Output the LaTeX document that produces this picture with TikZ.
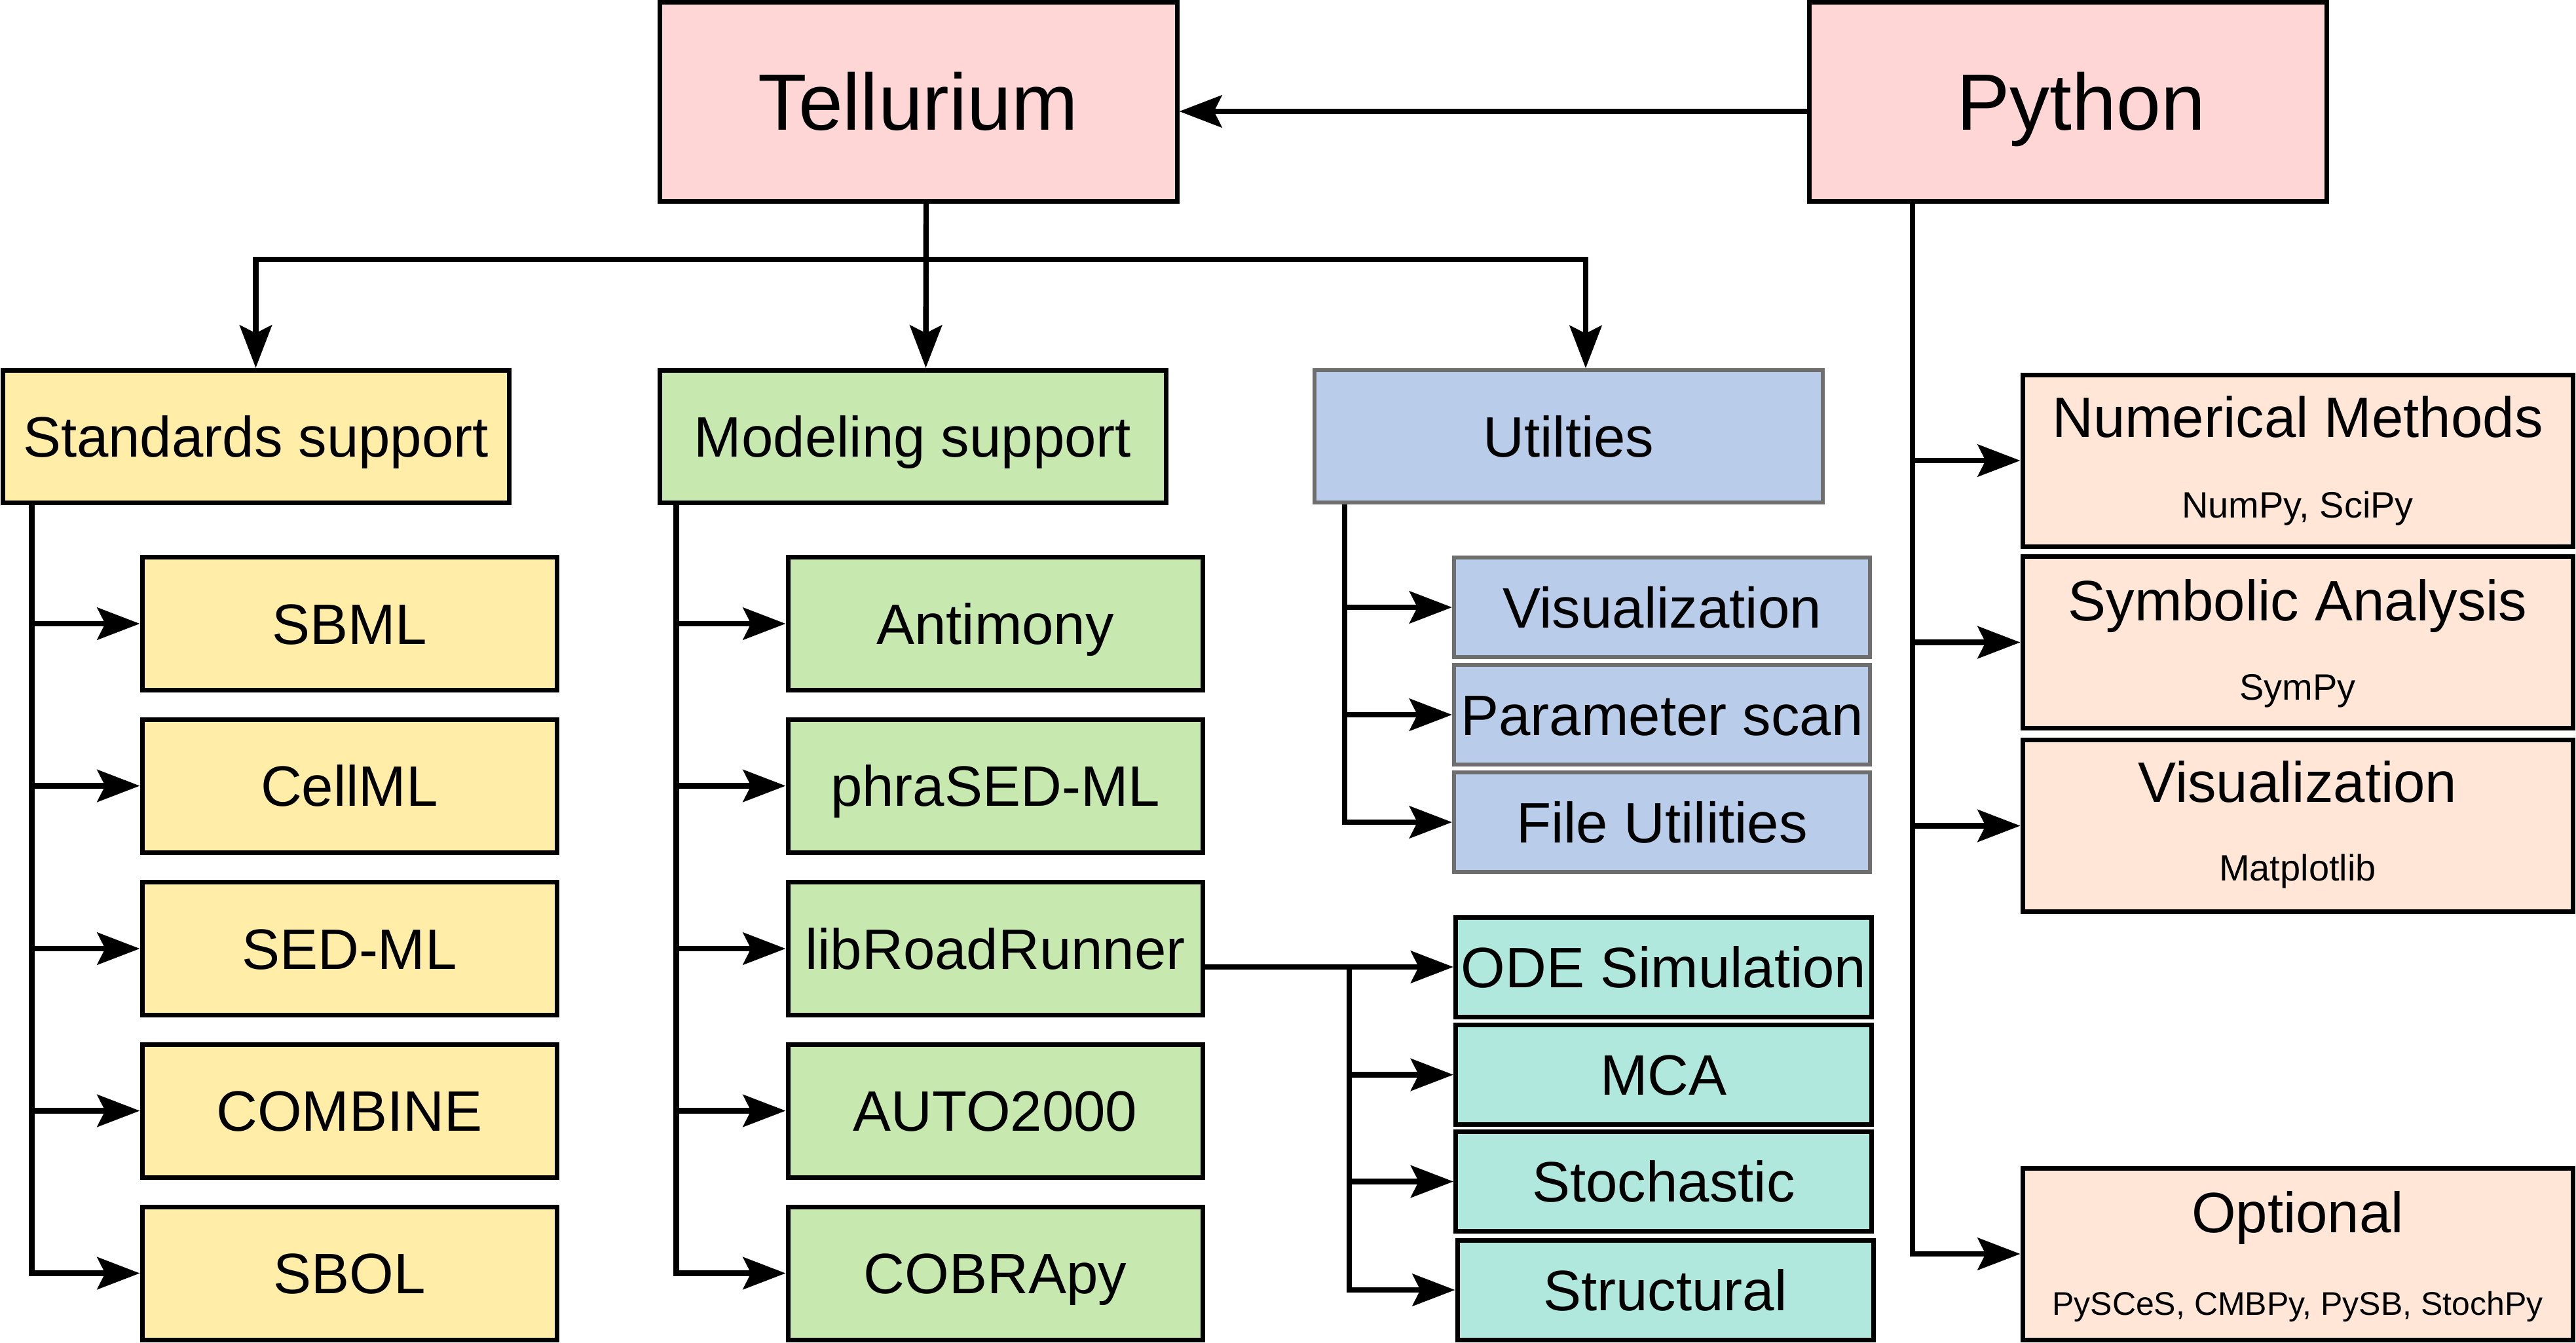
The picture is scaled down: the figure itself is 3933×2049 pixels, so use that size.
\documentclass[tikz,border=0pt]{standalone}
\usepackage{fontspec}
\setmainfont{Liberation Sans}
\usetikzlibrary{arrows.meta,calc}
\definecolor{cyel}{HTML}{FFEDA8}
\definecolor{cgrn}{HTML}{C7E9B0}
\definecolor{cblu}{HTML}{B9CDEB}
\definecolor{cteal}{HTML}{B0E8DE}
\definecolor{cpink}{HTML}{FFD6D6}
\definecolor{cpeach}{HTML}{FFE6D6}
\definecolor{cgray}{HTML}{6E6E6E}
\begin{document}
\begin{tikzpicture}[x=0.25pt,y=-0.25pt,
  box/.style={draw, line width=1.75pt, inner sep=0pt, text height=15.6pt, text depth=0pt,
    font=\fontsize{21.75pt}{26pt}\selectfont},
  bigbox/.style={box, fill=cpink, minimum width=197.5pt, minimum height=76pt,
    text height=21.9pt, font=\fontsize{30.5pt}{36pt}\selectfont},
  headbox/.style={box, minimum width=193.25pt, minimum height=50.5pt},
  ybox/.style={box, fill=cyel, minimum width=158.25pt, minimum height=50.75pt},
  gbox/.style={box, fill=cgrn, minimum width=158.25pt, minimum height=50.75pt},
  bbox/.style={box, draw=cgray, line width=1.5pt, fill=cblu, minimum width=158.75pt, minimum height=38pt},
  tbox/.style={box, fill=cteal, minimum width=158.75pt, minimum height=38pt},
  pbox/.style={box, fill=cpeach, minimum width=210pt, minimum height=65.5pt},
  ptitle/.style={anchor=base, inner sep=0pt, font=\fontsize{21.75pt}{26pt}\selectfont},
  psub/.style={anchor=base, inner sep=0pt, font=\fontsize{14pt}{17pt}\selectfont},
  conn/.style={line width=2.1pt, draw=black},
  arr/.style={conn, -{Stealth[length=16.25pt, width=12.25pt, inset=3pt]}}
]
\useasboundingbox (0,0) rectangle (3933,2049);

% top level
\node[bigbox] (tel) at (1402,155) {Tellurium};
\node[bigbox] (py) at (3157.5,155) {\hspace*{10pt}Python};

% second level
\node[headbox, fill=cyel] (std) at (390.5,666) {Standards support};
\node[headbox, fill=cgrn] (mod) at (1393.5,666) {Modeling support};
\node[headbox, draw=cgray, line width=1.5pt, fill=cblu, minimum width=194pt] (utl) at (2395,666) {Utilties};

% standards children
\node[ybox] (sbml) at (533.5,952) {SBML};
\node[ybox] (cellml) at (533.5,1199.5) {CellML};
\node[ybox] (sedml) at (533.5,1448) {SED-ML};
\node[ybox] (combine) at (533.5,1695.5) {COMBINE};
\node[ybox] (sbol) at (533.5,1943.5) {SBOL};

% modeling children
\node[gbox] (antimony) at (1519.5,952) {Antimony};
\node[gbox] (phrased) at (1519.5,1199.5) {phraSED-ML};
\node[gbox] (lrr) at (1519.5,1448) {libRoadRunner};
\node[gbox] (auto) at (1519.5,1695.5) {AUTO2000};
\node[gbox] (cobra) at (1519.5,1943.5) {COBRApy};

% utilities children
\node[bbox] (uvis) at (2537.5,927) {Visualization};
\node[bbox] (param) at (2537.5,1091) {Parameter scan};
\node[bbox] (file) at (2537.5,1255) {File Utilities};

% roadrunner children
\node[tbox] (ode) at (2540,1476) {ODE Simulation};
\node[tbox] (mca) at (2540,1640.5) {MCA};
\node[tbox] (stoch) at (2540,1803.5) {Stochastic};
\node[tbox] (struct) at (2542.5,1969) {Structural};

% python children
\node[pbox] (num) at (3508,703) {};
\node[pbox] (sym) at (3508,980.5) {};
\node[pbox] (pvis) at (3508,1260.5) {};
\node[pbox] (opt) at (3508,1914) {};
\node[ptitle] (numT) at ([yshift=-24.75pt]num.north) {Numerical Methods};
\node[psub] (numS) at ([yshift=-55.5pt]num.north) {NumPy, SciPy};
\node[ptitle] (symT) at ([yshift=-25.25pt]sym.north) {Symbolic Analysis};
\node[psub] (symS) at ([yshift=-55.5pt]sym.north) {SymPy};
\node[ptitle] (pvisT) at ([yshift=-24.5pt]pvis.north) {Visualization};
\node[psub] (pvisS) at ([yshift=-54.5pt]pvis.north) {Matplotlib};
\node[ptitle] (optT) at ([yshift=-25.5pt]opt.north) {Optional};
\node[psub, font=\fontsize{12.5pt}{15pt}\selectfont] (optS) at ([yshift=-57pt]opt.north) {PySCeS, CMBPy, PySB, StochPy};

% connectors: python -> tellurium
\draw[arr] ([yshift=-3.75pt]py.west) -- ([yshift=-3.75pt]tel.east);

% tellurium -> heads
\coordinate (busL) at (392,396);
\coordinate (busR) at (2421,396);
\draw[arr] ([xshift=3pt]tel.south) -- ([xshift=5pt]mod.north);
\draw[arr] (busR) -| (std.north);
\draw[arr] (busL) -| ([xshift=6.5pt]utl.north);

% standards branch
\foreach \c in {sbml,cellml,sedml,combine,sbol}
  \draw[arr] ([xshift=12pt]std.south west) |- (\c.west);

% modeling branch
\foreach \c in {antimony,phrased,lrr,auto,cobra}
  \draw[arr] ([xshift=7.25pt]mod.south west) |- (\c.west);

% utilities branch
\foreach \c in {uvis,param,file}
  \draw[arr] ([xshift=12.25pt]utl.south west) |- (\c.west);

% roadrunner branch
\draw[arr] (lrr.east |- ode.west) -- (ode.west);
\coordinate (jn) at (2060,1476);
\foreach \c in {mca,stoch,struct}
  \draw[arr] (jn) |- (\c.west);

% python branch
\foreach \c in {num,sym,pvis,opt}
  \draw[arr] ([xshift=40.25pt]py.south west) |- (\c.west);
\end{tikzpicture}
\end{document}
